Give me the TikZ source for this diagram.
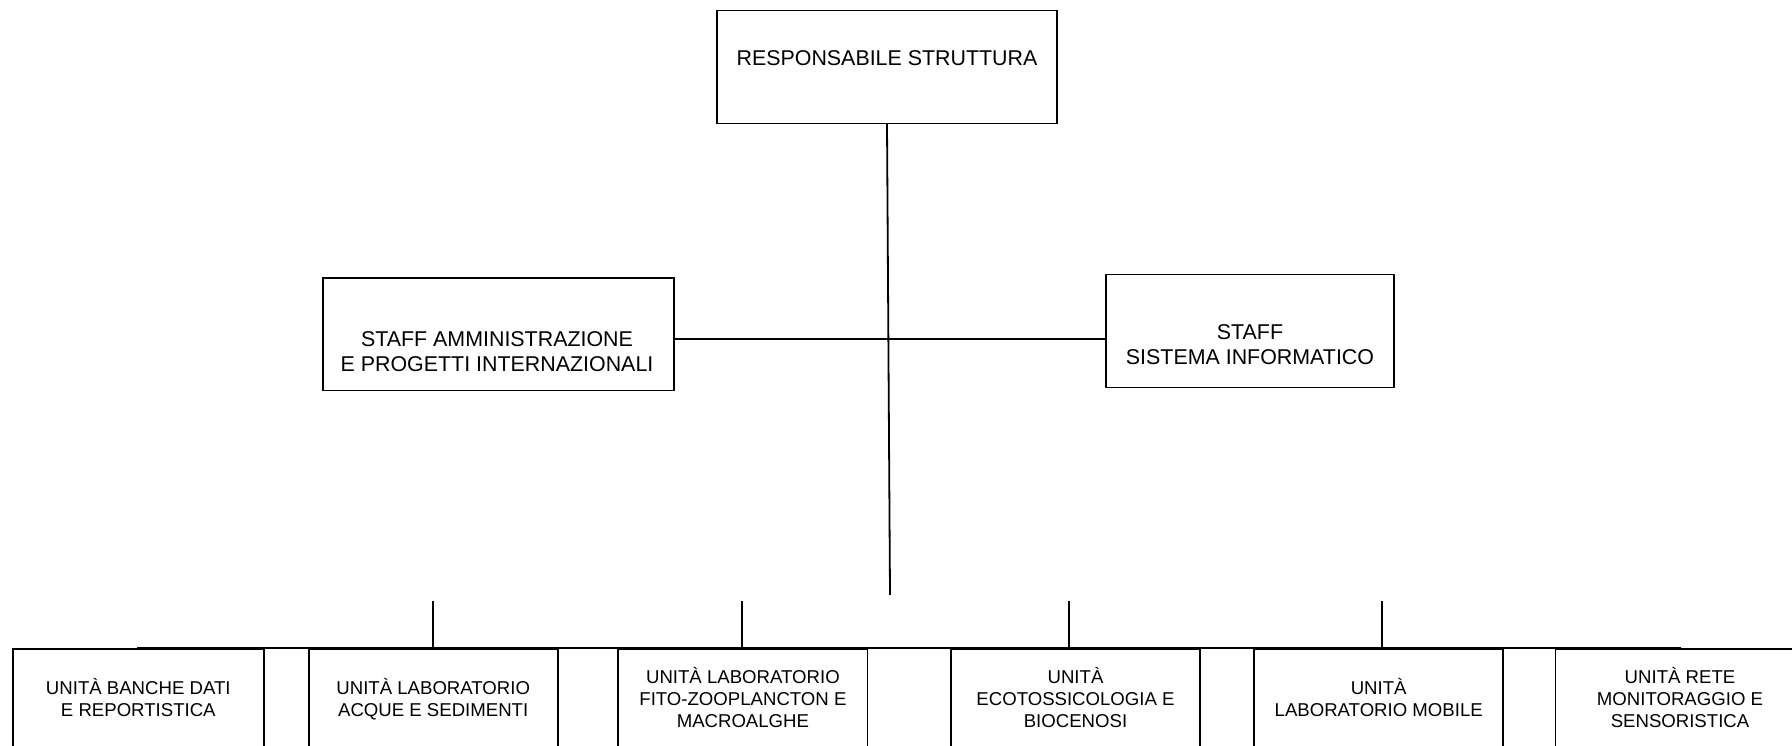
\documentclass[tikz,border=0pt]{standalone}
\usepackage{fontspec}
\setmainfont{Liberation Sans}
\begin{document}
\begin{tikzpicture}[x=1pt,y=-1pt,
  box/.style={draw=black, line width=1.8pt, fill=white, inner sep=0pt},
  bigtxt/.style={font=\fontsize{21.4}{25}\selectfont, align=center, inner sep=0pt, anchor=base},
  smalltxt/.style={font=\fontsize{18.6}{22.2}\selectfont, align=center, inner sep=0pt, anchor=base},
  conn/.style={line width=1.8pt, line cap=rect}]
\useasboundingbox (0,0) rectangle (1792,745);
\clip (0,0) rectangle (1792,745);

% top level
\node[box, minimum width=340.6pt, minimum height=113pt] (top) at (887,66.9) {};
\node[bigtxt] (toptxt) at (887,65.7) {RESPONSABILE STRUTTURA};

% staff
\node[box, minimum width=350.7pt, minimum height=112.5pt] (ls) at (498.7,334.3) {};
\node[bigtxt] (lstxt) at (497,371) {STAFF AMMINISTRAZIONE\\E PROGETTI INTERNAZIONALI};
\node[box, minimum width=288pt, minimum height=113pt] (rs) at (1250.3,330.9) {};
\node[bigtxt] (rstxt) at (1250,364) {STAFF\\SISTEMA INFORMATICO};

% units
\node[box, minimum width=251.4pt, minimum height=200pt, anchor=north] (b1) at (138.3,648) {};
\node[box, minimum width=249.1pt, minimum height=200pt, anchor=north] (b2) at (433.2,648) {};
\node[box, minimum width=249.1pt, minimum height=200pt, anchor=north] (b3) at (742.9,648) {};
\node[box, minimum width=249.1pt, minimum height=200pt, anchor=north] (b4) at (1075.5,648) {};
\node[box, minimum width=249.3pt, minimum height=200pt, anchor=north] (b5) at (1378.7,648) {};
\node[box, minimum width=249.1pt, minimum height=200pt, anchor=north] (b6) at (1680,648) {};

\node[smalltxt] (b1t) at (138.3,716.6) {UNITÀ BANCHE DATI\\E REPORTISTICA};
\node[smalltxt] (b2t) at (433.2,716.6) {UNITÀ LABORATORIO\\ACQUE E SEDIMENTI};
\node[smalltxt] (b3t) at (742.9,727.7) {UNITÀ LABORATORIO\\FITO-ZOOPLANCTON E\\MACROALGHE};
\node[smalltxt] (b4t) at (1075.5,727.7) {UNITÀ\\ECOTOSSICOLOGIA E\\BIOCENOSI};
\node[smalltxt] (b5t) at (1378.7,716.6) {UNITÀ\\LABORATORIO MOBILE};
\node[smalltxt] (b6t) at (1680,727.7) {UNITÀ RETE\\MONITORAGGIO E\\SENSORISTICA};

% connectors
\coordinate (trunkend) at (890,594);
\coordinate (j) at (888,339);
\coordinate (t2) at (433.1,602);
\coordinate (t3) at (741.7,602);
\coordinate (t4) at (1068.6,602);
\coordinate (t5) at (1381.7,602);

\draw[conn] (top.south) -- (trunkend);
\draw[conn] (ls.east |- j) -- (j) -- (rs.west |- j);
\draw[conn] (b1.north) -- (b6.north);
\draw[conn] (t2) -- (t2 |- b2.north);
\draw[conn] (t3) -- (t3 |- b3.north);
\draw[conn] (t4) -- (t4 |- b4.north);
\draw[conn] (t5) -- (t5 |- b5.north);
\end{tikzpicture}
\end{document}
